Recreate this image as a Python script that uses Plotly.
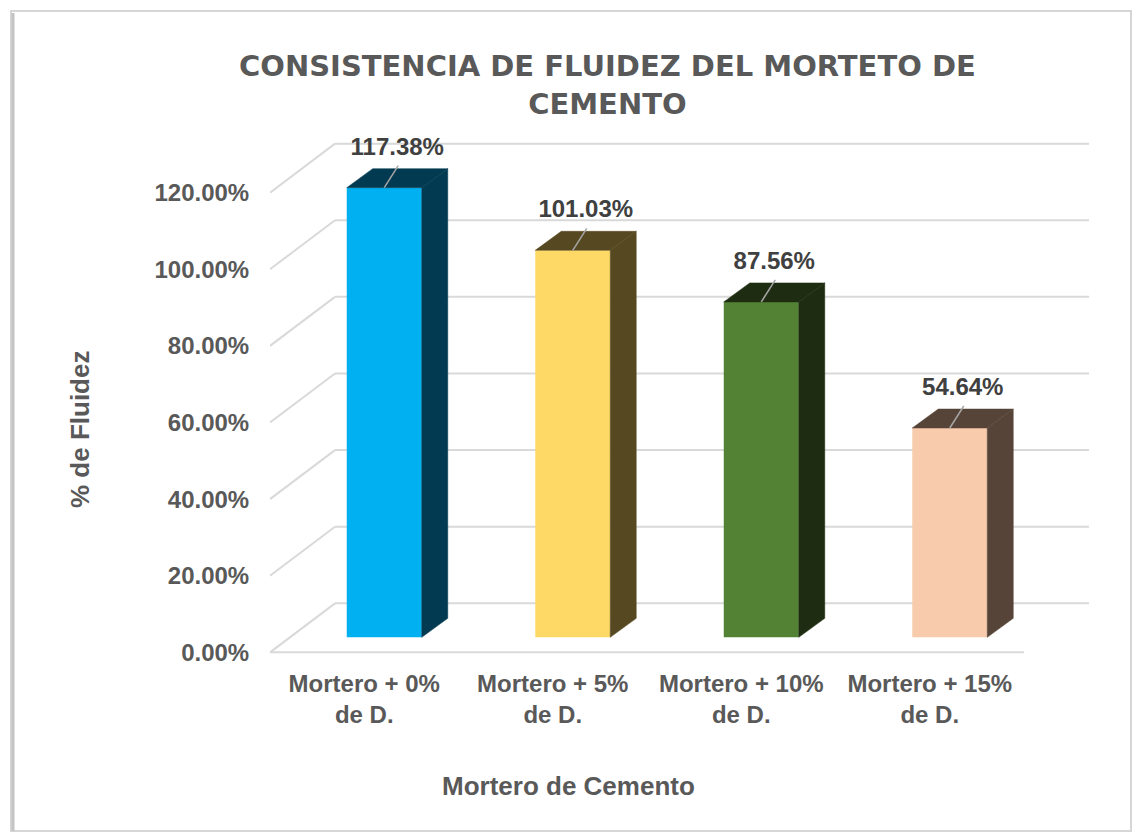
import plotly.graph_objects as go

# ---------------- data ----------------
categories = ["Mortero + 0%<br>de D.", "Mortero + 5%<br>de D.",
              "Mortero + 10%<br>de D.", "Mortero + 15%<br>de D."]
values = [1.1738, 1.0103, 0.8756, 0.5464]
label_texts = ["117.38%", "101.03%", "87.56%", "54.64%"]
y_ticks = [0.0, 0.2, 0.4, 0.6, 0.8, 1.0, 1.2]
front_colors = ["#00B0F0", "#FFD966", "#548235", "#F8CBAD"]
dark_colors = ["#023A51", "#564922", "#1E2D12", "#574438"]

title_text = "CONSISTENCIA DE FLUIDEZ DEL MORTETO DE<br>CEMENTO"
x_title = "Mortero de Cemento"
y_title = "% de Fluidez"

# ---------------- geometry (styling) ----------------
W, H = 1133, 833
ML, MR, MT, MB = 270, 43, 139, 173
PW, PH = W - ML - MR, H - MT - MB
XR = [-0.5, 3.85]
YR = [-0.02, 1.34]
PXX = PW / (XR[1] - XR[0])   # px per x unit
PXY = PH / (YR[1] - YR[0])   # px per y unit

def dx(px):
    return px / PXX

def dy(px):
    return px / PXY

def paper_x(px):
    return (px - ML) / PW

def paper_y(py):
    return (H - MB - py) / PH

DEPTH_X, DEPTH_Y = dx(65), dy(49)          # floor depth (front -> back wall)
BAR_OX, BAR_OY = dx(20), dy(15)            # bar front plane offset
SIDE_X, SIDE_Y = dx(26), dy(19)            # bar depth
BAR_W = dx(75)
FRONT_END = 3.5

GRID = "#D9D9D9"
TXT = "#595959"
FONT = "Liberation Sans"

fig = go.Figure()

# ---------------- walls / gridlines (shapes below traces) ----------------
shapes = []
for v in y_ticks:
    shapes.append(dict(type="line", xref="x", yref="y", layer="below",
                       x0=XR[0], y0=v, x1=XR[0] + DEPTH_X, y1=v + DEPTH_Y,
                       line=dict(color=GRID, width=2)))
    shapes.append(dict(type="line", xref="x", yref="y", layer="below",
                       x0=XR[0] + DEPTH_X, y0=v + DEPTH_Y,
                       x1=FRONT_END + DEPTH_X, y1=v + DEPTH_Y,
                       line=dict(color=GRID, width=2)))
shapes.append(dict(type="line", xref="x", yref="y", layer="below",
                   x0=XR[0], y0=0, x1=FRONT_END, y1=0,
                   line=dict(color=GRID, width=2)))

# chart frame
shapes.append(dict(type="rect", xref="paper", yref="paper", layer="below",
                   x0=paper_x(11), y0=paper_y(831), x1=paper_x(1131), y1=paper_y(11),
                   line=dict(color="#D6D6D6", width=2)))
shapes.append(dict(type="line", xref="paper", yref="paper", layer="below",
                   x0=paper_x(13), y0=paper_y(831), x1=paper_x(13), y1=paper_y(13),
                   line=dict(color="#C4C4C4", width=3)))

# ---------------- bars ----------------
xs = [i + BAR_OX for i in range(len(values))]

fig.add_trace(go.Bar(
    x=xs, y=values, base=[BAR_OY] * len(values), width=[BAR_W] * len(values),
    marker=dict(color=front_colors, line=dict(width=0)),
    hoverinfo="skip", showlegend=False))

for i, v in enumerate(values):
    xc = xs[i]
    xl, xr_ = xc - BAR_W / 2, xc + BAR_W / 2
    b, t = BAR_OY, BAR_OY + v
    # side face
    fig.add_trace(go.Scatter(
        x=[xr_, xr_ + SIDE_X, xr_ + SIDE_X, xr_, xr_],
        y=[b, b + SIDE_Y, t + SIDE_Y, t, b],
        fill="toself", fillcolor=dark_colors[i], mode="lines",
        line=dict(width=0.5, color=dark_colors[i]),
        hoverinfo="skip", showlegend=False))
    # top face
    fig.add_trace(go.Scatter(
        x=[xl, xr_, xr_ + SIDE_X, xl + SIDE_X, xl],
        y=[t, t, t + SIDE_Y, t + SIDE_Y, t],
        fill="toself", fillcolor=dark_colors[i], mode="lines",
        line=dict(width=0.5, color=dark_colors[i]),
        hoverinfo="skip", showlegend=False))

# leader lines
lx, ly = [], []
for i, v in enumerate(values):
    t = BAR_OY + v
    lx += [xs[i], xs[i] + dx(14), None]
    ly += [t, t + dy(22), None]
fig.add_trace(go.Scatter(x=lx, y=ly, mode="lines",
                         line=dict(color="#A6A6A6", width=1.5),
                         hoverinfo="skip", showlegend=False))

# data labels
fig.add_trace(go.Scatter(
    x=[xs[i] + dx(13) for i in range(len(values))],
    y=[BAR_OY + v + dy(39) for v in values],
    mode="text", text=label_texts, textposition="middle center",
    textfont=dict(family=FONT, size=24, color="#404040", weight="bold"),
    cliponaxis=False, hoverinfo="skip", showlegend=False))

# ---------------- annotations ----------------
annotations = [
    dict(xref="paper", yref="paper", x=paper_x(607), y=paper_y(85),
         text=title_text, showarrow=False, xanchor="center", yanchor="middle",
         font=dict(family="DejaVu Sans", size=29, color=TXT, weight="bold")),
    dict(xref="paper", yref="paper", x=paper_x(568), y=paper_y(786),
         text=x_title, showarrow=False, xanchor="center", yanchor="middle",
         font=dict(family=FONT, size=26, color=TXT, weight="bold")),
    dict(xref="paper", yref="paper", x=paper_x(80), y=paper_y(430),
         text=y_title, showarrow=False, xanchor="center", yanchor="middle",
         textangle=-90,
         font=dict(family=FONT, size=26, color=TXT, weight="bold")),
]

fig.update_layout(
    width=W, height=H,
    margin=dict(l=ML, r=MR, t=MT, b=MB),
    paper_bgcolor="white", plot_bgcolor="white",
    shapes=shapes, annotations=annotations,
    showlegend=False, hovermode=False,
    xaxis=dict(range=XR, tickvals=list(range(len(categories))), ticktext=categories,
               showgrid=False, zeroline=False, showline=False,
               ticks="outside", ticklen=2, tickcolor="rgba(0,0,0,0)",
               tickfont=dict(family=FONT, size=24, color=TXT, weight="bold")),
    yaxis=dict(range=YR, tickvals=y_ticks,
               ticktext=[f"{v*100:.2f}%" for v in y_ticks],
               showgrid=False, zeroline=False, showline=False,
               ticks="outside", ticklen=15, tickcolor="rgba(0,0,0,0)",
               tickfont=dict(family=FONT, size=24, color=TXT, weight="bold")),
)

fig.write_html("out.html", config={"displayModeBar": False},
               post_script="document.body.style.margin='0';document.body.style.overflow='hidden';")
